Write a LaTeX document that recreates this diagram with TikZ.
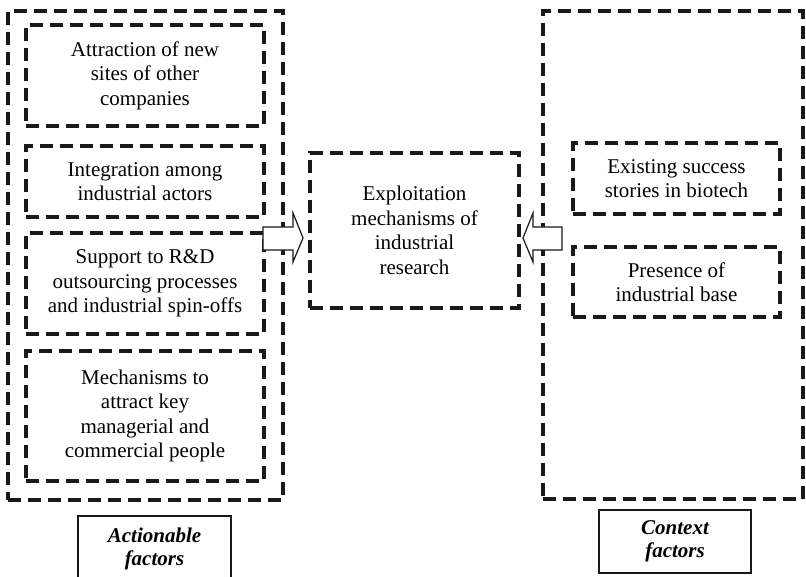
\documentclass[tikz,border=0pt]{standalone}
\usepackage{fontspec}
\setmainfont{Liberation Serif}
\begin{document}
\begin{tikzpicture}[x=1pt,y=-1pt,
  dbox/.style={draw=black!90, line width=3.6pt, dash pattern=on 13pt off 7pt,
    align=center, inner sep=2pt, font=\fontsize{21}{24.5}\selectfont},
  lbox/.style={draw=black!90, line width=1.6pt, align=center,
    font=\fontsize{21}{23}\selectfont\bfseries\itshape},
  bigarrow/.style={draw=black!90, fill=white, line width=1.2pt, line join=miter}]
\useasboundingbox (0,0) rectangle (806,577);
\clip (0,0) rectangle (806,577);
% outer boxes
\node[dbox, minimum width=275pt, minimum height=489pt] (left) at (145.5,255.5) {};
\node[dbox, minimum width=260pt, minimum height=488pt] (right) at (673,255) {};
% left inner boxes
\node[dbox, minimum width=238pt, minimum height=101pt] (b1) at (145,75.5) {Attraction of new\\sites of other\\companies};
\node[dbox, minimum width=238pt, minimum height=71pt] (b2) at (145,181.5) {Integration among\\industrial actors};
\node[dbox, minimum width=238pt, minimum height=101pt] (b3) at (145,283.5) {Support to R\&D\\outsourcing processes\\and industrial spin-offs};
\node[dbox, minimum width=238pt, minimum height=130pt] (b4) at (145,416) {Mechanisms to\\attract key\\managerial and\\commercial people};
% center
\node[dbox, minimum width=209pt, minimum height=155pt] (c) at (414.5,230.5) {Exploitation\\mechanisms of\\industrial\\research};
% right inner boxes
\node[dbox, minimum width=207pt, minimum height=71pt] (r1) at (676.5,178.5) {Existing success\\stories in biotech};
\node[dbox, minimum width=207pt, minimum height=70pt] (r2) at (676.5,282) {Presence of\\industrial base};
% labels
\node[lbox, minimum width=153pt, minimum height=66pt] (la) at (154.5,549) {Actionable\\factors};
\node[lbox, minimum width=152pt, minimum height=63pt] (lc) at (675,541.5) {Context\\factors};
% arrows
\draw[bigarrow] (263,227) -- (293,227) -- (293,213) -- (303,238) -- (293,262) -- (293,250) -- (263,250) -- cycle;
\draw[bigarrow] (562,227) -- (533,227) -- (533,213) -- (523,238) -- (533,262) -- (533,250) -- (562,250) -- cycle;
\end{tikzpicture}
\end{document}
